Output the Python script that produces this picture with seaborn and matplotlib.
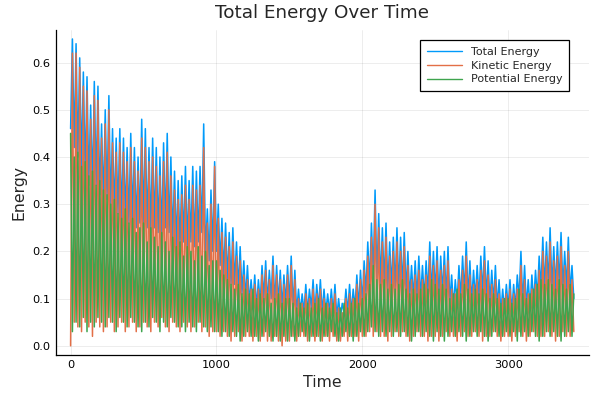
import matplotlib
matplotlib.use("Agg")
import matplotlib.pyplot as plt
import numpy as np
import pandas as pd
import seaborn as sns

# Values, in units of 0.01 energy.
# Total / Kinetic: troughs at t = 0, 25, ..., 3450; peaks at t = 12.5, 37.5, ..., 3437.5
total_hi = [65, 64, 61, 58, 57, 51, 56, 55, 47, 50,
            53, 46, 44, 46, 44, 42, 45, 42, 40, 48,
            46, 42, 44, 42, 40, 43, 45, 40, 37, 35,
            36, 38, 35, 38, 37, 38, 47, 29, 33, 39,
            30, 27, 26, 24, 25, 22, 21, 18, 17, 14,
            15, 14, 17, 18, 16, 19, 17, 16, 15, 17,
            19, 16, 12, 11, 13, 12, 14, 13, 14, 12,
            11, 12, 13, 10, 9, 12, 13, 12, 15, 16,
            18, 22, 26, 33, 28, 25, 26, 22, 23, 25,
            23, 24, 20, 17, 18, 19, 17, 18, 22, 20,
            21, 19, 20, 21, 15, 14, 17, 19, 22, 18,
            16, 17, 19, 21, 18, 16, 17, 14, 12, 13,
            14, 13, 15, 20, 17, 14, 15, 16, 19, 23,
            22, 25, 21, 22, 24, 20, 23, 17]
total_lo = [46, 42, 40, 38, 36, 34, 33, 34, 32, 30,
            31, 29, 28, 28, 27, 27, 26, 27, 25, 26,
            26, 25, 24, 25, 24, 23, 25, 24, 22, 21,
            21, 22, 21, 22, 21, 22, 24, 19, 18, 20,
            20, 17, 15, 14, 13, 13, 12, 11, 10, 9,
            9, 8, 9, 10, 9, 10, 9, 9, 8, 9,
            9, 8, 7, 7, 7, 7, 8, 7, 8, 7,
            7, 7, 7, 6, 6, 7, 7, 7, 8, 8,
            9, 11, 13, 15, 14, 13, 13, 12, 12, 12,
            12, 12, 11, 10, 10, 10, 10, 10, 11, 11,
            11, 10, 11, 10, 9, 8, 9, 10, 11, 10,
            9, 10, 10, 11, 10, 9, 9, 8, 7, 7,
            8, 7, 8, 10, 9, 8, 8, 9, 10, 12,
            12, 13, 12, 12, 13, 12, 12, 11, 10]
kinetic_hi = [62, 62, 59, 55, 54, 48, 53, 52, 44, 47,
              50, 43, 41, 43, 41, 39, 42, 39, 37, 44,
              42, 39, 40, 38, 36, 39, 41, 36, 33, 31,
              32, 34, 31, 34, 33, 34, 42, 26, 30, 38,
              27, 24, 23, 21, 22, 19, 18, 15, 14, 12,
              13, 12, 15, 16, 14, 17, 15, 14, 13, 15,
              17, 14, 10, 9, 11, 10, 12, 11, 12, 10,
              9, 10, 11, 8, 7, 10, 11, 10, 13, 14,
              16, 19, 23, 30, 25, 22, 23, 19, 20, 22,
              20, 21, 17, 14, 15, 16, 14, 15, 19, 17,
              18, 16, 17, 18, 12, 11, 14, 16, 19, 15,
              13, 14, 16, 18, 15, 13, 14, 11, 10, 11,
              12, 11, 12, 17, 14, 11, 12, 13, 16, 20,
              19, 22, 18, 19, 21, 17, 20, 14]
kinetic_lo = [0, 5, 4, 3, 5, 4, 2, 5, 4, 3,
              4, 5, 3, 4, 5, 3, 4, 5, 3, 4,
              5, 4, 3, 5, 4, 6, 4, 3, 5, 4,
              3, 5, 4, 3, 4, 5, 3, 4, 2, 3,
              3, 2, 3, 2, 1, 2, 3, 1, 2, 2,
              1, 2, 1, 2, 1, 1, 2, 1, 0, 1,
              1, 2, 1, 2, 2, 1, 2, 1, 2, 1,
              2, 1, 2, 1, 1, 2, 1, 2, 2, 1,
              2, 2, 3, 2, 3, 2, 2, 1, 2, 3,
              2, 3, 2, 1, 2, 3, 2, 2, 1, 2,
              2, 1, 2, 3, 2, 2, 1, 2, 3, 2,
              2, 3, 2, 1, 2, 2, 3, 2, 1, 2,
              2, 1, 2, 3, 2, 1, 2, 3, 2, 2,
              2, 3, 2, 1, 2, 3, 2, 2, 3]
# Potential: peaks at t = 0, 25, ..., 3450; troughs at t = 12.5, ..., 3437.5
potential_hi = [45, 40, 41, 38, 39, 36, 37, 34, 35, 33,
                32, 30, 31, 28, 27, 29, 26, 27, 24, 25,
                26, 22, 25, 23, 21, 24, 22, 20, 23, 21,
                22, 19, 21, 20, 18, 21, 19, 20, 17, 18,
                18, 16, 15, 14, 13, 12, 13, 11, 12, 11,
                12, 10, 11, 10, 11, 9, 10, 11, 9, 10,
                10, 9, 8, 9, 8, 9, 8, 9, 10, 8,
                9, 8, 9, 7, 8, 9, 8, 9, 10, 9,
                10, 11, 13, 17, 14, 13, 14, 12, 13, 12,
                13, 14, 12, 11, 12, 11, 12, 13, 12, 14,
                13, 12, 13, 12, 10, 11, 12, 11, 13, 12,
                11, 12, 11, 12, 11, 10, 11, 10, 9, 10,
                10, 9, 10, 12, 11, 10, 11, 12, 13, 14,
                13, 14, 13, 12, 14, 13, 12, 13, 11]
potential_lo = [3, 5, 4, 6, 3, 5, 4, 6, 5, 4,
                6, 5, 3, 6, 5, 4, 6, 5, 4, 3,
                5, 4, 6, 5, 3, 5, 4, 6, 5, 4,
                4, 3, 5, 4, 3, 5, 4, 3, 4, 3,
                3, 2, 3, 2, 3, 2, 1, 2, 3, 2,
                2, 1, 2, 3, 2, 1, 2, 1, 2, 1,
                2, 1, 2, 3, 2, 1, 2, 2, 1, 2,
                2, 3, 2, 1, 2, 3, 2, 1, 2, 3,
                2, 3, 4, 3, 2, 3, 2, 3, 2, 3,
                2, 3, 2, 1, 2, 3, 2, 3, 2, 1,
                3, 2, 1, 2, 3, 2, 3, 2, 1, 2,
                3, 2, 3, 2, 1, 2, 3, 2, 2, 3,
                2, 3, 1, 2, 3, 2, 3, 2, 1, 2,
                3, 2, 3, 2, 1, 2, 3, 2]

series_names = ["Total Energy", "Kinetic Energy", "Potential Energy"]
colors = ["#009AFA", "#E36F47", "#3EA44E"]


def interleave(even, odd):
    out = np.empty(len(even) + len(odd))
    out[0::2] = even
    out[1::2] = odd
    return out / 100


time = np.arange(0, 3450.1, 12.5)
values = [interleave(total_lo, total_hi),
          interleave(kinetic_lo, kinetic_hi),
          interleave(potential_hi, potential_lo)]

df = pd.concat([pd.DataFrame({"Time": time, "Energy": v, "Series": name})
                for name, v in zip(series_names, values)], ignore_index=True)

sns.set_style("white")
plt.rcParams['font.family'] = ['DejaVu Sans']

fig = plt.figure(figsize=(6, 4), dpi=100)
ax = fig.add_axes([0.0925, 0.1125, 0.889, 0.8125])
sns.lineplot(data=df, x="Time", y="Energy", hue="Series", hue_order=series_names,
             palette=colors, estimator=None, sort=False, linewidth=1.1, ax=ax)

ax.set_xlim(-103.5, 3553.5)
ax.set_ylim(-0.0195, 0.669)
ax.set_xticks([0, 1000, 2000, 3000])
ax.set_yticks([0.0, 0.1, 0.2, 0.3, 0.4, 0.5, 0.6])
ax.set_yticklabels(["0.0", "0.1", "0.2", "0.3", "0.4", "0.5", "0.6"])
ax.grid(True, color="black", alpha=0.1, linewidth=0.5)
ax.tick_params(direction="in", length=3, width=0.8, labelsize=8.2, colors="black")
for side in ["top", "right"]:
    ax.spines[side].set_visible(False)
for side in ["left", "bottom"]:
    ax.spines[side].set_color("black")
    ax.spines[side].set_linewidth(0.9)

ax.set_title("Total Energy Over Time", fontsize=13.2, pad=9)
ax.set_xlabel("Time", fontsize=11.3)
ax.set_ylabel("Energy", fontsize=11.3)

leg = ax.legend(loc="upper right", fontsize=8, frameon=True, fancybox=False,
                edgecolor="black", framealpha=1, handlelength=3.2,
                borderpad=0.6, labelspacing=0.33, bbox_to_anchor=(0.974, 0.985))
leg.get_frame().set_linewidth(0.9)
for line in leg.get_lines():
    line.set_linewidth(1.0)

fig.savefig("out.png", dpi=100)
